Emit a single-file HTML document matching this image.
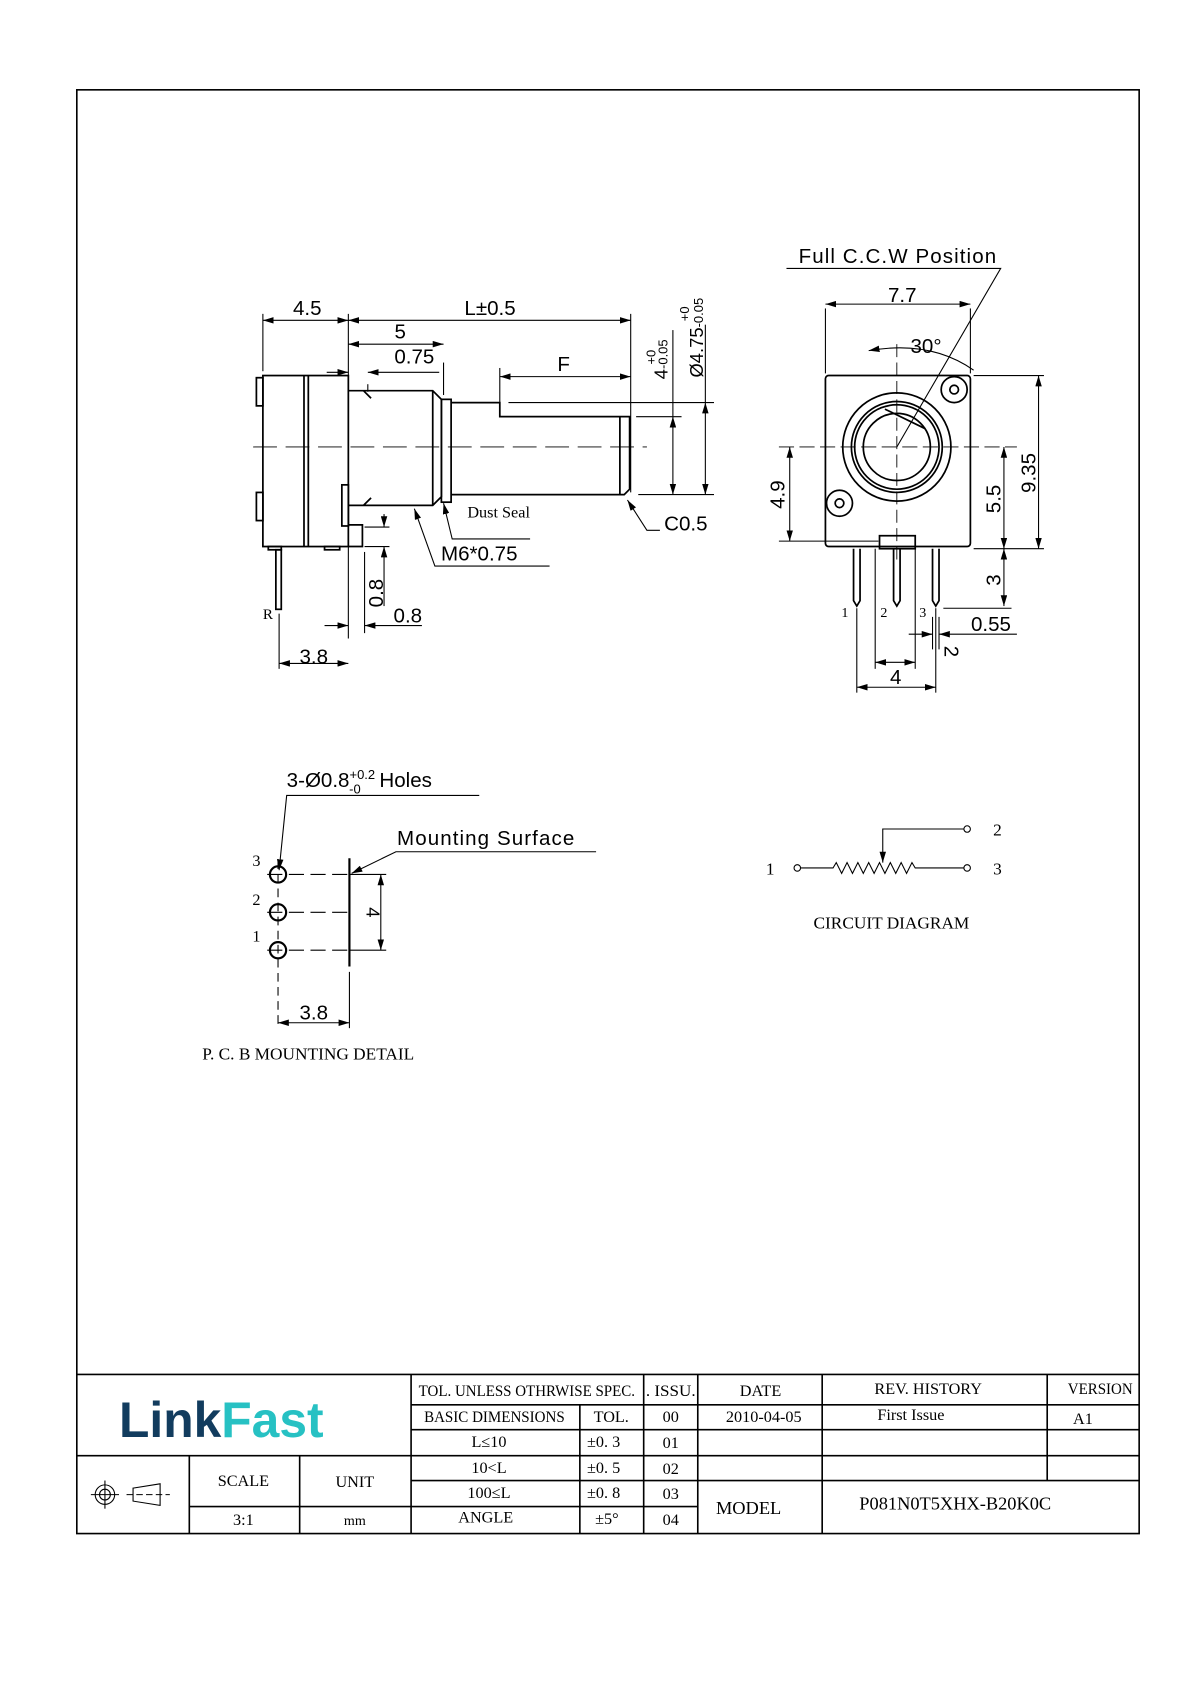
<!DOCTYPE html>
<html><head><meta charset="utf-8"><style>
html,body{margin:0;padding:0;background:#fff}
svg{display:block}
text{font-family:"Liberation Sans",sans-serif;fill:#000}
.s{font-family:"Liberation Serif",serif}
</style></head><body>
<svg width="1190" height="1684" viewBox="0 0 1100 1556" preserveAspectRatio="none" xmlns="http://www.w3.org/2000/svg">
<defs>
<marker id="a" viewBox="0 0 10 6" refX="10" refY="3" markerWidth="10" markerHeight="6" orient="auto-start-reverse" markerUnits="userSpaceOnUse"><path d="M0,0L10,3L0,6z" fill="#000"/></marker>
</defs>
<g fill="none" stroke="#000" stroke-width="1">
<rect x="71" y="83" width="982" height="1334" stroke-width="1.5"/>
<g stroke-width="1.5">
<line x1="71" y1="1270" x2="1053" y2="1270"/>
<line x1="71" y1="1345" x2="380" y2="1345"/>
<line x1="380" y1="1298" x2="1053" y2="1298"/>
<line x1="380" y1="1321" x2="1053" y2="1321"/>
<line x1="380" y1="1345" x2="1053" y2="1345"/>
<line x1="380" y1="1368" x2="1053" y2="1368"/>
<line x1="175" y1="1392" x2="645" y2="1392"/>
<line x1="175" y1="1345" x2="175" y2="1417"/>
<line x1="277" y1="1345" x2="277" y2="1417"/>
<line x1="380" y1="1270" x2="380" y2="1417"/>
<line x1="536" y1="1298" x2="536" y2="1417"/>
<line x1="595" y1="1270" x2="595" y2="1417"/>
<line x1="645" y1="1270" x2="645" y2="1417"/>
<line x1="760" y1="1270" x2="760" y2="1417"/>
<line x1="968" y1="1270" x2="968" y2="1368"/>
</g>
<circle cx="97" cy="1381" r="9"/><circle cx="97" cy="1381" r="5"/>
<line x1="84" y1="1381" x2="110" y2="1381"/><line x1="97" y1="1368" x2="97" y2="1394"/>
<path d="M123,1375 L148,1371 L148,1391 L123,1387 Z"/>
<line x1="117" y1="1381" x2="157" y2="1381" stroke-dasharray="6,3"/>

<g stroke-width="1.6">
<rect x="243" y="347" width="79" height="158"/>
<line x1="281" y1="347" x2="281" y2="505"/><line x1="285" y1="347" x2="285" y2="505"/>
<rect x="237" y="349" width="6" height="26"/><rect x="237" y="455" width="6" height="26"/>
<path d="M322,361 H400 L408,369 V459 L400,467 H322"/>
<line x1="400" y1="361" x2="400" y2="467"/>
<path d="M336,361 L343,368 M336,467 L343,460"/>
<rect x="408" y="369" width="9" height="95"/>
<path d="M417,372 H462 V385 H582 V452 L577,457 H417"/>
<line x1="573" y1="385" x2="573" y2="457"/>
<rect x="316" y="448" width="6" height="38"/>
<path d="M322,485 H335 V505 H322"/>
<rect x="248" y="505" width="12" height="3"/><rect x="300" y="505" width="14" height="3"/>
<rect x="255" y="508" width="5" height="55"/>
</g>
<line x1="234" y1="413" x2="598" y2="413" stroke-dasharray="22,8" stroke-width="0.8"/>
<line x1="243" y1="290" x2="243" y2="343"/>
<line x1="322" y1="290" x2="322" y2="590"/>
<line x1="583" y1="290" x2="583" y2="455"/>
<line x1="243" y1="296" x2="322" y2="296" marker-start="url(#a)" marker-end="url(#a)"/>
<line x1="322" y1="296" x2="583" y2="296" marker-start="url(#a)" marker-end="url(#a)"/>
<line x1="410" y1="335" x2="410" y2="365"/>
<line x1="322" y1="318" x2="410" y2="318" marker-start="url(#a)" marker-end="url(#a)"/>
<line x1="340" y1="355" x2="340" y2="362"/>
<line x1="302" y1="344" x2="322" y2="344" marker-end="url(#a)"/>
<line x1="406" y1="344" x2="340" y2="344" marker-end="url(#a)"/>
<line x1="462" y1="340" x2="462" y2="372"/>
<line x1="462" y1="348" x2="583" y2="348" marker-start="url(#a)" marker-end="url(#a)"/>
<line x1="470" y1="372" x2="660" y2="372"/>
<line x1="588" y1="385" x2="630" y2="385"/>
<line x1="590" y1="457" x2="660" y2="457"/>
<line x1="622" y1="385" x2="622" y2="457" marker-start="url(#a)" marker-end="url(#a)"/>
<line x1="622" y1="305" x2="622" y2="385"/>
<line x1="652" y1="372" x2="652" y2="457" marker-start="url(#a)" marker-end="url(#a)"/>
<line x1="652" y1="300" x2="652" y2="372"/>
<path d="M610,490 H598 L580,462" marker-end="url(#a)"/>
<path d="M508,523 H402 L383,470" marker-end="url(#a)"/>
<path d="M490,498 H418 L410,465" marker-end="url(#a)"/>
<line x1="337" y1="487" x2="360" y2="487"/><line x1="337" y1="505" x2="360" y2="505"/>
<line x1="355" y1="475" x2="355" y2="487" marker-end="url(#a)"/>
<line x1="355" y1="560" x2="355" y2="505" marker-end="url(#a)"/>
<line x1="337" y1="510" x2="337" y2="585"/>
<line x1="300" y1="578" x2="322" y2="578" marker-end="url(#a)"/>
<line x1="390" y1="578" x2="337" y2="578" marker-end="url(#a)"/>
<line x1="258" y1="567" x2="258" y2="618"/>
<line x1="258" y1="613" x2="322" y2="613" marker-start="url(#a)" marker-end="url(#a)"/>

<g stroke-width="1.6">
<rect x="763" y="347" width="134" height="158" rx="3"/>
<circle cx="829" cy="413" r="50"/><circle cx="829" cy="413" r="42"/><circle cx="829" cy="413" r="39"/><circle cx="829" cy="413" r="31"/>
<circle cx="882" cy="360" r="12"/><circle cx="882" cy="360" r="4"/>
<circle cx="776" cy="465" r="12"/><circle cx="776" cy="465" r="4"/>
<path d="M818,378 L855,396"/>
<rect x="813" y="495" width="33" height="12"/>
<path d="M789,507 V555 L792,560 L795,555 V507 M826,507 V555 L829,560 L832,555 V507 M862,507 V555 L865,560 L868,555 V507"/>
</g>
<line x1="829" y1="318" x2="829" y2="520" stroke-dasharray="12,5" stroke-width=".8"/>
<line x1="720" y1="413" x2="940" y2="413" stroke-dasharray="14,5" stroke-width=".8"/>
<line x1="763" y1="285" x2="763" y2="345"/><line x1="897" y1="285" x2="897" y2="345"/>
<line x1="763" y1="281" x2="897" y2="281" marker-start="url(#a)" marker-end="url(#a)"/>
<path d="M727,248 H925 L829,413"/>
<path d="M803,324 Q860,314 900,342" marker-start="url(#a)"/>
<line x1="900" y1="347" x2="965" y2="347"/>
<line x1="900" y1="507" x2="965" y2="507"/>
<line x1="960" y1="347" x2="960" y2="507" marker-start="url(#a)" marker-end="url(#a)"/>
<line x1="928" y1="413" x2="928" y2="507" marker-start="url(#a)" marker-end="url(#a)"/>
<line x1="928" y1="507" x2="928" y2="560" marker-start="url(#a)" marker-end="url(#a)"/>
<line x1="872" y1="562" x2="935" y2="562"/>
<line x1="720" y1="500" x2="812" y2="500"/>
<line x1="730" y1="413" x2="730" y2="500" marker-start="url(#a)" marker-end="url(#a)"/>
<line x1="792" y1="562" x2="792" y2="640"/><line x1="865" y1="562" x2="865" y2="640"/>
<line x1="809" y1="507" x2="809" y2="618"/><line x1="846" y1="507" x2="846" y2="618"/>
<line x1="862" y1="570" x2="862" y2="600"/><line x1="868" y1="570" x2="868" y2="600"/>
<line x1="792" y1="635" x2="865" y2="635" marker-start="url(#a)" marker-end="url(#a)"/>
<line x1="809" y1="612" x2="846" y2="612" marker-start="url(#a)" marker-end="url(#a)"/>
<line x1="840" y1="586" x2="862" y2="586" marker-end="url(#a)"/>
<line x1="940" y1="586" x2="868" y2="586" marker-end="url(#a)"/>

<circle cx="257" cy="808" r="7.5" stroke-width="2"/><circle cx="257" cy="843" r="7.5" stroke-width="2"/><circle cx="257" cy="878" r="7.5" stroke-width="2"/>
<line x1="257" y1="795" x2="257" y2="950" stroke-dasharray="8,5"/>
<line x1="247" y1="808" x2="322" y2="808" stroke-dasharray="14,6"/>
<line x1="247" y1="843" x2="322" y2="843" stroke-dasharray="14,6"/>
<line x1="247" y1="878" x2="322" y2="878" stroke-dasharray="14,6"/>
<line x1="323" y1="793" x2="323" y2="893" stroke-width="2"/>
<line x1="323" y1="808" x2="357" y2="808"/><line x1="323" y1="878" x2="357" y2="878"/>
<line x1="352" y1="808" x2="352" y2="878" marker-start="url(#a)" marker-end="url(#a)"/>
<line x1="323" y1="898" x2="323" y2="950"/>
<line x1="257" y1="945" x2="323" y2="945" marker-start="url(#a)" marker-end="url(#a)"/>
<path d="M443,735 H265 L258,804" marker-end="url(#a)"/>
<path d="M551,787 H366 L325,807" marker-end="url(#a)"/>

<circle cx="737" cy="802" r="3"/><circle cx="894" cy="802" r="3"/><circle cx="894" cy="766" r="3"/>
<path d="M740,802 H770 l3,-5 l5,10 l5,-10 l5,10 l5,-10 l5,10 l5,-10 l5,10 l5,-10 l5,10 l5,-10 l5,10 l5,-10 l5,10 l5,-10 l3,5 H891"/>
<path d="M891,766 H816 V797" marker-end="url(#a)"/>
</g>

<g font-size="19">
<text x="284" y="291" text-anchor="middle">4.5</text>
<text x="453" y="291" text-anchor="middle">L±0.5</text>
<text x="370" y="313" text-anchor="middle">5</text>
<text x="383" y="336" text-anchor="middle">0.75</text>
<text x="521" y="343" text-anchor="middle">F</text>
<text x="634" y="490" text-anchor="middle">C0.5</text>
<text x="443" y="518" text-anchor="middle">M6*0.75</text>
<text x="377" y="575" text-anchor="middle">0.8</text>
<text x="290" y="613" text-anchor="middle">3.8</text>
<text transform="translate(354,548) rotate(-90)" text-anchor="middle">0.8</text>
<text transform="translate(617,332) rotate(-90)" text-anchor="middle" font-size="17">4<tspan font-size="12">-0.05</tspan></text>
<text transform="translate(606,330) rotate(-90)" text-anchor="middle" font-size="12">+0</text>
<text transform="translate(650,312) rotate(-90)" text-anchor="middle" font-size="17">Ø4.75<tspan font-size="12">-0.05</tspan></text>
<text transform="translate(637,290) rotate(-90)" text-anchor="middle" font-size="12">+0</text>
</g>
<text class="s" x="432" y="478" font-size="15">Dust Seal</text>
<text class="s" x="243" y="572" font-size="14">R</text>

<g font-size="19">
<text x="830" y="243" text-anchor="middle" letter-spacing="1">Full C.C.W Position</text>
<text x="834" y="279" text-anchor="middle">7.7</text>
<text x="856" y="326" text-anchor="middle">30°</text>
<text transform="translate(957,437) rotate(-90)" text-anchor="middle">9.35</text>
<text transform="translate(925,461) rotate(-90)" text-anchor="middle">5.5</text>
<text transform="translate(925,536) rotate(-90)" text-anchor="middle">3</text>
<text transform="translate(725,457) rotate(-90)" text-anchor="middle">4.9</text>
<text x="916" y="583" text-anchor="middle">0.55</text>
<text transform="translate(873,602) rotate(90)" text-anchor="middle">2</text>
<text x="828" y="632" text-anchor="middle">4</text>
</g>
<text class="s" x="781" y="570" font-size="13" text-anchor="middle">1</text>
<text class="s" x="817" y="570" font-size="13" text-anchor="middle">2</text>
<text class="s" x="853" y="570" font-size="13" text-anchor="middle">3</text>

<text x="265" y="727" font-size="19">3-Ø0.8<tspan font-size="12" dy="-7">+0.2</tspan><tspan font-size="12" dx="-24" dy="13">-0</tspan><tspan dy="-6" dx="12"> Holes</tspan></text>
<text x="367" y="781" font-size="19" letter-spacing="1">Mounting Surface</text>
<text class="s" x="237" y="800" font-size="15" text-anchor="middle">3</text>
<text class="s" x="237" y="836" font-size="15" text-anchor="middle">2</text>
<text class="s" x="237" y="870" font-size="15" text-anchor="middle">1</text>
<text transform="translate(339,843) rotate(90)" font-size="17" text-anchor="middle">4</text>
<text x="290" y="942" font-size="19" text-anchor="middle">3.8</text>
<text class="s" x="187" y="979" font-size="16">P. C. B MOUNTING DETAIL</text>

<text class="s" x="712" y="808" font-size="16" text-anchor="middle">1</text>
<text class="s" x="922" y="808" font-size="16" text-anchor="middle">3</text>
<text class="s" x="922" y="772" font-size="16" text-anchor="middle">2</text>
<text class="s" x="824" y="858" font-size="16" text-anchor="middle">CIRCUIT DIAGRAM</text>

<text x="110" y="1328" font-size="46" font-weight="bold" style="fill:#123c5e">Link<tspan style="fill:#27c1c3">Fast</tspan></text>
<g font-size="15" text-anchor="middle">
<text class="s" x="487" y="1290" textLength="200" lengthAdjust="spacingAndGlyphs">TOL. UNLESS OTHRWISE SPEC.</text>
<text class="s" x="620" y="1290" textLength="46" lengthAdjust="spacingAndGlyphs">. ISSU.</text>
<text class="s" x="703" y="1290">DATE</text>
<text class="s" x="858" y="1288">REV. HISTORY</text>
<text class="s" x="1017" y="1288" textLength="60" lengthAdjust="spacingAndGlyphs">VERSION</text>
<text class="s" x="457" y="1314" textLength="130" lengthAdjust="spacingAndGlyphs">BASIC DIMENSIONS</text>
<text class="s" x="565" y="1314">TOL.</text>
<text class="s" x="620" y="1314">00</text>
<text class="s" x="706" y="1314">2010-04-05</text>
<text class="s" x="842" y="1312">First Issue</text>
<text class="s" x="1001" y="1316">A1</text>
<text class="s" x="452" y="1337">L≤10</text><text class="s" x="558" y="1337">±0. 3</text><text class="s" x="620" y="1338">01</text>
<text class="s" x="452" y="1361">10&lt;L</text><text class="s" x="558" y="1361">±0. 5</text><text class="s" x="620" y="1362">02</text>
<text class="s" x="452" y="1384">100≤L</text><text class="s" x="558" y="1384">±0. 8</text><text class="s" x="620" y="1385">03</text>
<text class="s" x="449" y="1407">ANGLE</text><text class="s" x="561" y="1408">±5°</text><text class="s" x="620" y="1409">04</text>
<text class="s" x="225" y="1373">SCALE</text><text class="s" x="328" y="1374">UNIT</text>
<text class="s" x="225" y="1409">3:1</text><text class="s" x="328" y="1409" font-size="13">mm</text>
<text class="s" x="692" y="1399" font-size="17">MODEL</text>
<text class="s" x="883" y="1395" font-size="17">P081N0T5XHX-B20K0C</text>
</g>
</svg>
</body></html>
